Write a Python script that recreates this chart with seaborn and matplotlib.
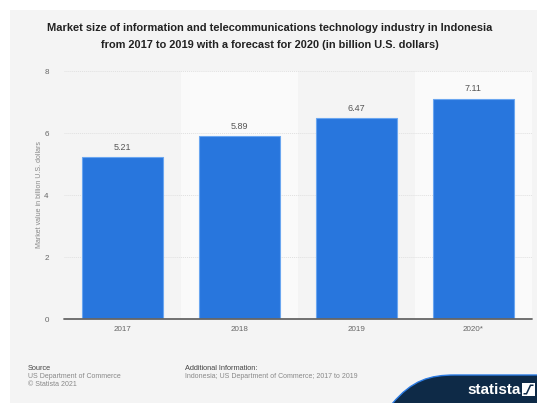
import matplotlib
matplotlib.use("Agg")
import matplotlib.pyplot as plt
import matplotlib.patches as mpatches
from matplotlib.path import Path
import pandas as pd
import seaborn as sns

# Data
years = ["2017", "2018", "2019", "2020*"]
market_value = [5.21, 5.89, 6.47, 7.11]
y_ticks = [0, 2, 4, 6, 8]

title = ("Market size of information and telecommunications technology industry in Indonesia\n"
         "from 2017 to 2019 with a forecast for 2020 (in billion U.S. dollars)")
y_label = "Market value in billion U.S. dollars"

sns.set_theme(style="white")
plt.rcParams["font.family"] = ["Liberation Sans", "DejaVu Sans"]

W, H = 537, 403
fig = plt.figure(figsize=(W / 100, H / 100), dpi=100)
fig.patch.set_facecolor("white")

# light grey card behind everything
fig.add_artist(mpatches.Rectangle((10 / W, 0), 1 - 10 / W, 1 - 10 / H,
                                  transform=fig.transFigure, facecolor="#f4f4f4",
                                  edgecolor="none", zorder=-10))

ax = fig.add_axes([64 / W, 1 - 319 / H, (531.7 - 64) / W, (319 - 71) / H])
ax.set_facecolor("#f4f4f4")

df = pd.DataFrame({"year": years, "value": market_value})
sns.barplot(data=df, x="year", y="value", color="#2876dd", saturation=1,
            width=0.69, edgecolor="#6aa6f0", linewidth=0.8, ax=ax, zorder=3)

# alternating column shading
for i in range(len(years)):
    if i % 2 == 1:
        ax.axvspan(i - 0.5, i + 0.5, color="#fafafa", zorder=0, lw=0)

ax.set_xlim(-0.5, len(years) - 0.5)
ax.set_ylim(0, 8)
ax.set_yticks(y_ticks)
for t in y_ticks[1:]:
    ax.axhline(t, color="#e0e0e0", lw=0.7, ls=(0, (1, 1)), zorder=1)
ax.axhline(0, color="#666666", lw=1.3, zorder=4, clip_on=False)

for s in ax.spines.values():
    s.set_visible(False)
ax.tick_params(axis="both", length=0, colors="#666666", labelsize=5.8)
ax.tick_params(axis="y", pad=11)
ax.tick_params(axis="x", pad=5)
ax.set_xlabel("")
ax.set_ylabel(y_label, fontsize=5, color="#888888", labelpad=1)

for c in ax.containers:
    ax.bar_label(c, labels=[f"{v:.2f}" for v in market_value], padding=4,
                 fontsize=6.5, color="#555555")

fig.text(270 / W, 1 - 36.5 / H, title, ha="center", va="center", fontsize=7.9,
         fontweight="bold", color="#222222", linespacing=1.85)

# footer
fig.text(28 / W, 1 - 369 / H, "Source", fontsize=5.3, color="#444444", va="center")
fig.text(28 / W, 1 - 377 / H, "US Department of Commerce", fontsize=5, color="#888888", va="center")
fig.text(28 / W, 1 - 384.5 / H, "\u00a9 Statista 2021", fontsize=5, color="#888888", va="center")
fig.text(185 / W, 1 - 369 / H, "Additional Information:", fontsize=5.3, color="#444444", va="center")
fig.text(185 / W, 1 - 377 / H, "Indonesia; US Department of Commerce; 2017 to 2019",
         fontsize=5, color="#888888", va="center")

# statista banner
def fx(x):
    return x / W

def fy(y):
    return 1 - y / H

verts = [(fx(392), fy(404)), (fx(412), fy(380)), (fx(430), fy(375)), (fx(455), fy(375)),
         (fx(538), fy(375)), (fx(538), fy(404)), (fx(392), fy(404))]
codes = [Path.MOVETO, Path.CURVE4, Path.CURVE4, Path.CURVE4, Path.LINETO, Path.LINETO, Path.CLOSEPOLY]
fig.add_artist(mpatches.PathPatch(Path(verts, codes), transform=fig.transFigure,
                                  facecolor="#0e2a47", edgecolor="#2a7ae2", lw=1.0, zorder=5))
fig.text(fx(494), fy(390), "statista", color="white", fontsize=11, fontweight="bold",
         ha="center", va="center", zorder=6)
fig.add_artist(mpatches.Polygon([(fx(522), fy(383)), (fx(535), fy(383)), (fx(535), fy(396)),
                                 (fx(522), fy(396))], closed=True, transform=fig.transFigure,
                                facecolor="white", edgecolor="none", zorder=6))
fig.add_artist(mpatches.Polygon([(fx(523.5), fy(394.5)), (fx(527), fy(394.5)), (fx(531), fy(386)),
                                 (fx(533.5), fy(386)), (fx(533.5), fy(384.5)), (fx(530), fy(384.5)),
                                 (fx(526), fy(393)), (fx(523.5), fy(393))], closed=True,
                                transform=fig.transFigure, facecolor="#0e2a47",
                                edgecolor="none", zorder=7))

fig.savefig("out.png", dpi=100)
